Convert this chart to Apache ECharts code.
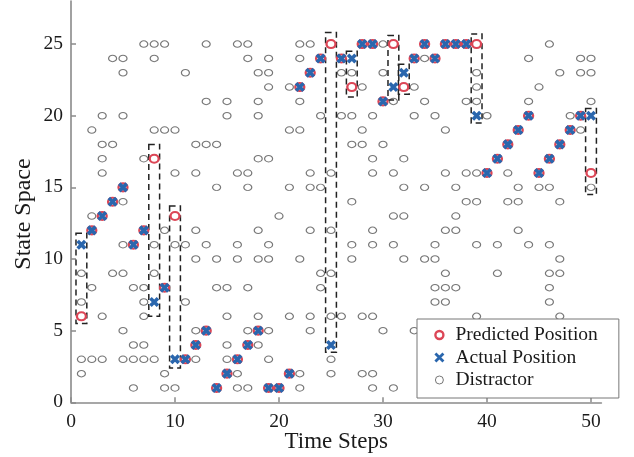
<!DOCTYPE html>
<html>
<head>
<meta charset="utf-8">
<script src="https://cdn.jsdelivr.net/npm/echarts@6/dist/echarts.min.js"></script>
<style>
html,body{margin:0;padding:0;background:#fff;}
#chart{width:634px;height:457px;}
</style>
</head>
<body>
<div id="chart"></div>
<script>
// ---- data ----
const timeSteps = [1,2,3,4,5,6,7,8,9,10,11,12,13,14,15,16,17,18,19,20,21,22,23,24,25,26,27,28,29,30,31,32,33,34,35,36,37,38,39,40,41,42,43,44,45,46,47,48,49,50];
const actualPos = [11,12,13,14,15,11,12,7,8,3,3,4,5,1,2,3,4,5,1,1,2,22,23,24,4,24,24,25,25,21,22,23,24,25,24,25,25,25,20,16,17,18,19,20,16,17,18,19,20,20];
const predictedPos = [6,12,13,14,15,11,12,17,8,13,3,4,5,1,2,3,4,5,1,1,2,22,23,24,25,24,22,25,25,21,25,22,24,25,24,25,25,25,25,16,17,18,19,20,16,17,18,19,20,16];

const distractorRowY = [25,24,23,22,21,20,19,18,17,16,15,14,13,12,11,10,9,8,7,6,5,4,3,2,1];
const distractorRowX = [
  [7,8,9,13,16,17,22,23,30,46],
  [4,5,8,17,19,22,34,44,49,50],
  [5,11,18,19,26,27,30,39,47,49,50],
  [19,21,28,33,39,45],
  [13,15,18,22,31,34,38,39,44,50],
  [3,5,15,18,24,26,27,29,33,35,40,48],
  [2,8,9,10,21,22,28,36,49],
  [3,4,12,13,14,27,28,30],
  [3,7,18,19,29,32],
  [3,10,12,16,17,23,25,29,31,36,38,39,42],
  [14,17,21,23,24,32,34,37,43,45,46,50],
  [5,27,38,39,42,43,47],
  [2,20,31,32,37],
  [9,12,18,23,25,29,36,37,43],
  [5,8,10,11,13,16,19,27,29,31,35,39,41,44,46],
  [12,14,16,18,19,22,27,32,34,35,47],
  [1,4,5,8,24,25,36,41,46,47],
  [2,6,7,14,15,17,24,35,36,37,46],
  [1,7,11,35,36,46],
  [3,7,15,18,21,23,25,26,28,29,39,47],
  [5,12,17,19,23,30,33],
  [6,7,15,18],
  [1,2,3,5,6,7,8,12,15,19,25],
  [1,9,16,22,25,28,29],
  [6,9,10,16,17,22,29,31]
];

// dashed boxes around prediction errors
const boxX    = [1, 8, 10, 25, 27, 31, 32, 39, 50];
const boxLow  = [5.5, 6.0, 2.4, 3.5, 21.3, 21.1, 21.5, 19.5, 14.5];
const boxHigh = [11.8, 18.0, 13.7, 25.8, 24.5, 25.6, 23.6, 25.7, 20.5];

const xTicks = [0,10,20,30,40,50];
const yTicks = [0,5,10,15,20,25];

const seriesNames = ['Predicted Position','Actual Position','Distractor'];
const xAxisTitle = 'Time Steps';
const yAxisTitle = 'State Space';

// ---- build ----
const distractorData = [];
distractorRowY.forEach((y, i) => distractorRowX[i].forEach(x => distractorData.push([x, y])));
const predictedData = timeSteps.map((t, i) => [t, predictedPos[i]]);
const actualData = timeSteps.map((t, i) => [t, actualPos[i]]);
const boxData = boxX.map((x, i) => [x, boxLow[i], boxHigh[i]]);

const FONT = 'Liberation Serif';
const TXT = '#1a1a1a';
const AXC = '#8a8a8a';
const RED = '#dc4656';
const BLUE = '#2a66ad';
const GREY = '#777777';
const XPATH = 'path://M0,0L10,10M10,0L0,10';

const chart = echarts.init(document.getElementById('chart'), null, {renderer: 'canvas'});
chart.setOption({
  animation: false,
  backgroundColor: '#fff',
  grid: {left: 71, right: 32.6, top: 1.1, bottom: 54.7, containLabel: false, outerBoundsMode: 'none'},
  xAxis: {
    type: 'value', min: 0, max: 51,
    axisLine: {show: true, onZero: false, lineStyle: {color: AXC, width: 1.6}},
    axisTick: {show: true, inside: true, length: 5, customValues: xTicks, lineStyle: {color: AXC, width: 1.5}},
    axisLabel: {customValues: xTicks, margin: 10, fontFamily: FONT, fontSize: 19.5, color: TXT},
    splitLine: {show: false},
    name: xAxisTitle, nameLocation: 'middle', nameGap: 28, nameMoveOverlap: false,
    nameTextStyle: {fontFamily: FONT, fontSize: 23, color: TXT}
  },
  yAxis: {
    type: 'value', min: 0, max: 28,
    axisLine: {show: true, onZero: false, lineStyle: {color: AXC, width: 1.6}},
    axisTick: {show: true, inside: true, length: 5, customValues: yTicks, lineStyle: {color: AXC, width: 1.5}},
    axisLabel: {customValues: yTicks, margin: 8, fontFamily: FONT, fontSize: 19.5, color: TXT},
    splitLine: {show: false}
  },
  graphic: [{
    type: 'text', x: 24, y: 214, rotation: Math.PI / 2,
    style: {text: yAxisTitle, font: '24px "Liberation Serif"', fill: TXT, align: 'center', verticalAlign: 'middle'}
  }],
  legend: {
    orient: 'vertical', left: 417, top: 319, z: 10,
    backgroundColor: '#fff', borderColor: '#777', borderWidth: 1, borderRadius: 0,
    padding: [6, 21, 8, 17], itemGap: 2.5, itemWidth: 22, itemHeight: 8,
    textStyle: {fontFamily: FONT, fontSize: 19.5, color: TXT},
    selectedMode: false,
    data: [
      {name: seriesNames[0], icon: 'circle', itemStyle: {color: 'rgba(0,0,0,0)', borderColor: RED, borderWidth: 2.4}},
      {name: seriesNames[1], icon: XPATH, itemStyle: {color: 'rgba(0,0,0,0)', borderColor: BLUE, borderWidth: 2.8}},
      {name: seriesNames[2], icon: 'circle', itemStyle: {color: 'rgba(0,0,0,0)', borderColor: GREY, borderWidth: 1}}
    ]
  },
  series: [
    {
      name: seriesNames[2], type: 'scatter', z: 2, silent: true,
      symbol: 'circle', symbolSize: [8, 6.5],
      itemStyle: {color: 'rgba(0,0,0,0)', borderColor: GREY, borderWidth: 1.1, opacity: 1},
      data: distractorData
    },
    {
      type: 'custom', z: 3, silent: true,
      renderItem: function (params, api) {
        const p0 = api.coord([api.value(0) - 0.52, api.value(2)]);
        const p1 = api.coord([api.value(0) + 0.52, api.value(1)]);
        return {
          type: 'rect',
          shape: {x: p0[0], y: p0[1], width: p1[0] - p0[0], height: p1[1] - p0[1]},
          style: {fill: null, stroke: '#222', lineWidth: 1.5, lineDash: [6, 4]}
        };
      },
      data: boxData
    },
    {
      name: seriesNames[0], type: 'scatter', z: 4, silent: true,
      symbol: 'circle', symbolSize: [9, 8],
      itemStyle: {color: 'rgba(0,0,0,0)', borderColor: RED, borderWidth: 2.2, opacity: 1},
      data: predictedData
    },
    {
      name: seriesNames[1], type: 'scatter', z: 5, silent: true,
      symbol: XPATH, symbolSize: 7.5,
      itemStyle: {color: 'rgba(0,0,0,0)', borderColor: BLUE, borderWidth: 3.6, opacity: 1},
      data: actualData
    }
  ]
});
</script>
</body>
</html>
